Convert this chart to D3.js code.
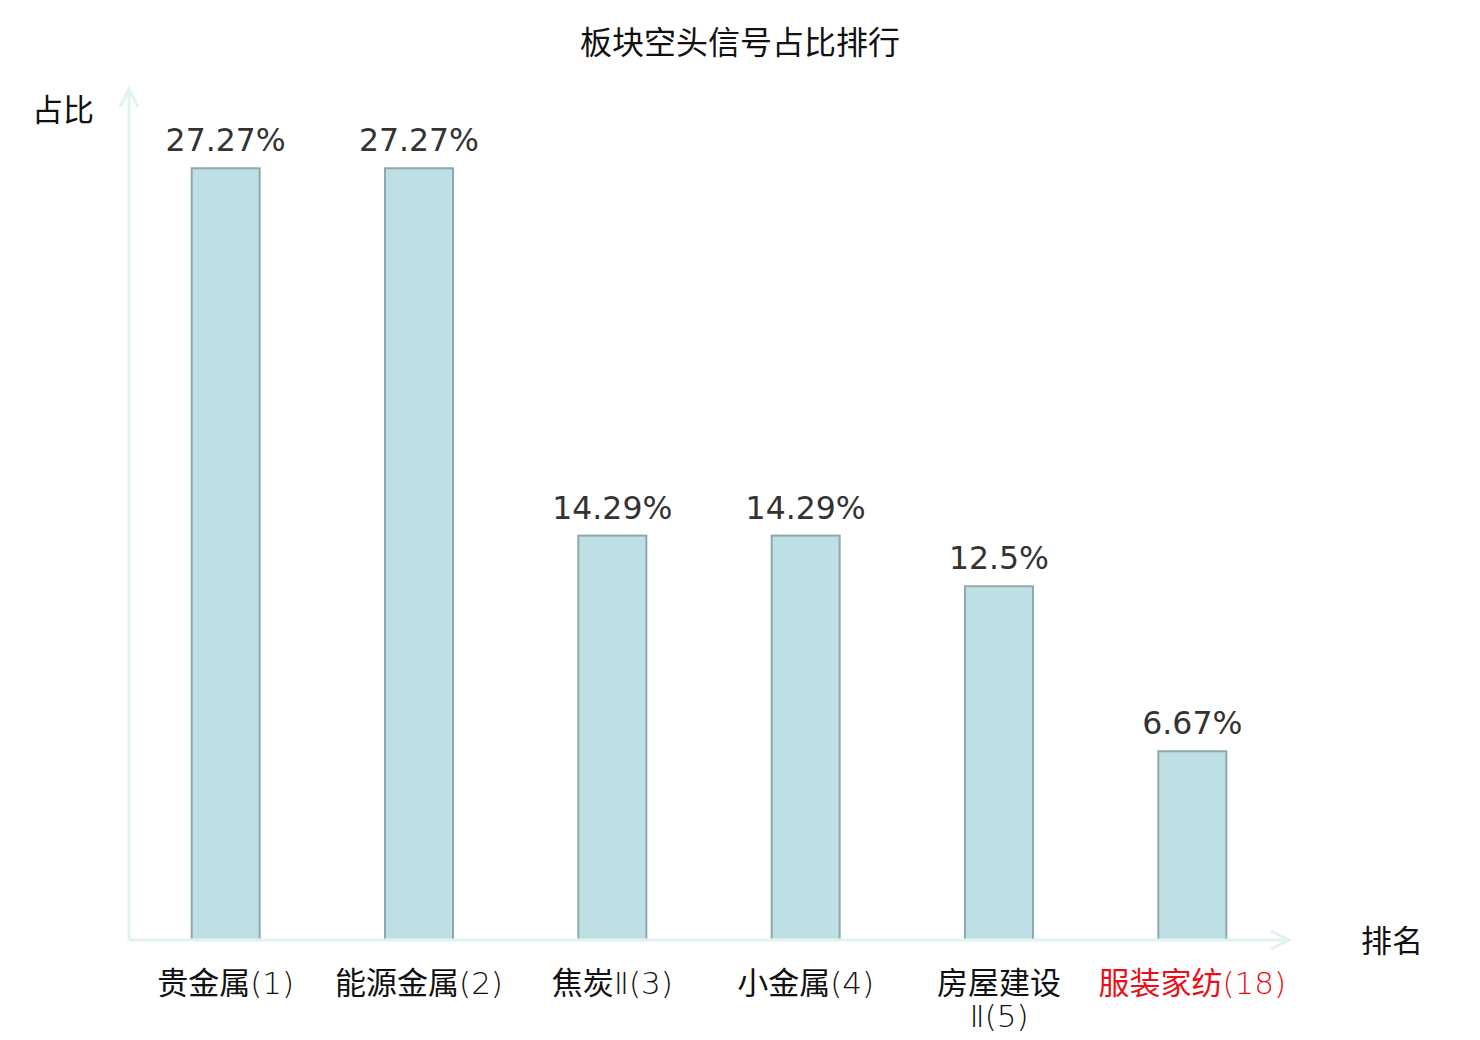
<!DOCTYPE html>
<html><head><meta charset="utf-8">
<script src="https://cdn.jsdelivr.net/npm/d3@7/dist/d3.min.js"></script>
<style>body{margin:0;background:#fff}</style>
</head><body>
<svg id="c" width="1480" height="1040"></svg>
<script>
const categories = ["贵金属(1)", "能源金属(2)", "焦炭Ⅱ(3)", "小金属(4)", "房屋建设Ⅱ(5)", "服装家纺(18)"];
const values = [27.27, 27.27, 14.29, 14.29, 12.5, 6.67];
const highlight = [false, false, false, false, false, true];
const title = "板块空头信号占比排行";
const yName = "占比";
const xName = "排名";

const svg = d3.select("#c");
const x0 = 129, x1 = 1289, yBase = 940, yTop = 91;
const x = d3.scaleBand().domain(categories).range([x0, x1]);
const y = d3.scaleLinear().domain([0, 30]).range([yBase, yTop]);
const axisColor = "#e0f3f1";
const cjk = "'Noto Sans CJK SC', 'Noto Sans', sans-serif";
const latin = "'DejaVu Sans', sans-serif";

svg.append("text").attr("x", 740).attr("y", 54).attr("text-anchor", "middle")
  .attr("font-family", cjk).attr("font-size", 32).attr("fill", "#111").text(title);

// bars
const bw = 68;
svg.selectAll("rect.bar").data(values).join("rect")
  .attr("x", (d, i) => x(categories[i]) + x.bandwidth() / 2 - bw / 2)
  .attr("y", d => y(d))
  .attr("width", bw)
  .attr("height", d => yBase - y(d))
  .attr("fill", "#bce0e3").attr("stroke", "#8fa9aa").attr("stroke-width", 2);

// value labels
svg.selectAll("text.val").data(values).join("text")
  .attr("x", (d, i) => x(categories[i]) + x.bandwidth() / 2)
  .attr("y", d => y(d) - 17)
  .attr("text-anchor", "middle")
  .attr("font-family", latin).attr("font-size", 31.5)
  .attr("fill", "#333").text(d => d + "%");

// axes
const ax = svg.append("g");
ax.append("line").attr("x1", x0).attr("y1", yBase).attr("x2", 1288).attr("y2", yBase)
  .attr("stroke", axisColor).attr("stroke-width", 3);
ax.append("path").attr("d", `M1271,931 L1289,940 L1271,949`).attr("fill", "none")
  .attr("stroke", axisColor).attr("stroke-width", 3);
ax.append("line").attr("x1", x0).attr("y1", yBase).attr("x2", x0).attr("y2", 89)
  .attr("stroke", axisColor).attr("stroke-width", 3);
ax.append("path").attr("d", `M120,107 L129,89 L138,107`).attr("fill", "none")
  .attr("stroke", axisColor).attr("stroke-width", 3);

svg.append("text").attr("x", 63).attr("y", 121).attr("text-anchor", "middle")
  .attr("font-family", cjk).attr("font-size", 31).attr("fill", "#111").text(yName);
svg.append("text").attr("x", 1392).attr("y", 952).attr("text-anchor", "middle")
  .attr("font-family", cjk).attr("font-size", 31).attr("fill", "#111").text(xName);

// category labels; the long one wraps onto two lines
categories.forEach((c, i) => {
  const cx = x(c) + x.bandwidth() / 2;
  const t = svg.append("text")
    .attr("x", cx).attr("y", 994)
    .attr("text-anchor", "middle").attr("font-size", 31)
    .attr("fill", highlight[i] ? "#e8101a" : "#111");
  const lines = c.indexOf("Ⅱ") > 3 ? [c.slice(0, 4), c.slice(4)] : [c];
  lines.forEach((l, k) => {
    const runs = l.match(/[\u4e00-\u9fff]+|[^\u4e00-\u9fff]+/g);
    runs.forEach((r, j) => {
      const isCjk = /[\u4e00-\u9fff]/.test(r);
      const s = t.append("tspan").text(r)
        .attr("font-family", isCjk ? cjk : latin)
        .attr("font-weight", isCjk ? 400 : 200);
      if (j === 0) s.attr("x", cx).attr("dy", k === 0 ? 0 : 33);
    });
  });
});
</script>
</body></html>
